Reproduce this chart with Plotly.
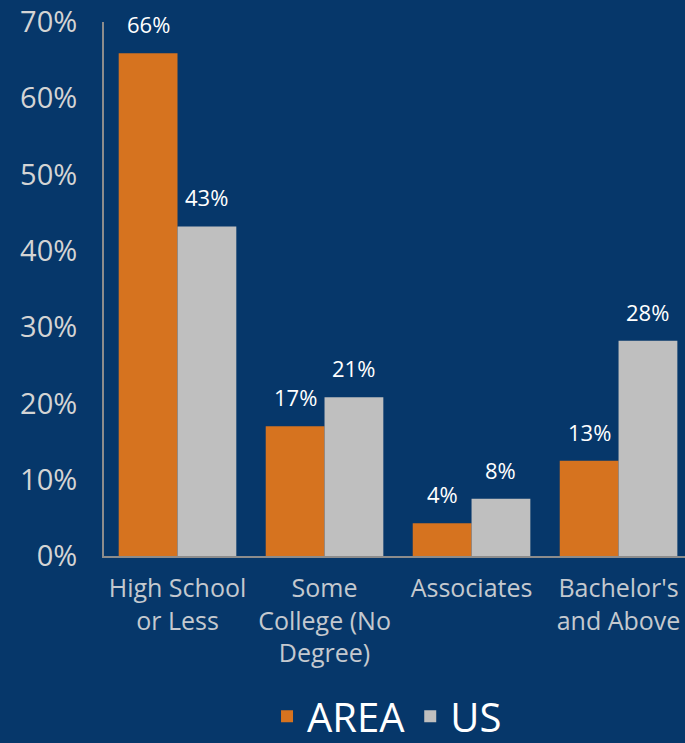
import plotly.graph_objects as go

categories = ["High School<br>or Less", "Some<br>College (No<br>Degree)", "Associates", "Bachelor's<br>and Above"]
area_values = [65.9, 17.0, 4.3, 12.5]
us_values = [43.2, 20.8, 7.5, 28.2]
area_labels = ["66%", "17%", "4%", "13%"]
us_labels = ["43%", "21%", "8%", "28%"]
y_ticks = [0, 10, 20, 30, 40, 50, 60, 70]
y_tick_labels = ["0%", "10%", "20%", "30%", "40%", "50%", "60%", "70%"]

BG = "#06376A"
ORANGE = "#D6731F"
GRAY = "#BFBFBF"
FONT = "Open Sans"

fig = go.Figure()
fig.add_trace(go.Bar(name="AREA", x=categories, y=area_values,
                     marker=dict(color=ORANGE, line=dict(width=0))))
fig.add_trace(go.Bar(name="US", x=categories, y=us_values,
                     marker=dict(color=GRAY, line=dict(width=0))))

annotations = []
for cat, v, lab in zip(categories, area_values, area_labels):
    annotations.append(dict(x=cat, y=v, text=lab, xshift=-29, yshift=12,
                            yanchor="bottom", showarrow=False,
                            font=dict(family=FONT, size=22, color="white")))
for cat, v, lab in zip(categories, us_values, us_labels):
    annotations.append(dict(x=cat, y=v, text=lab, xshift=29, yshift=12,
                            yanchor="bottom", showarrow=False,
                            font=dict(family=FONT, size=22, color="white")))

fig.update_layout(
    width=685, height=743,
    paper_bgcolor=BG, plot_bgcolor=BG,
    margin=dict(l=104, r=0, t=22, b=187),
    barmode="group", bargap=0.2, bargroupgap=0,
    font=dict(family=FONT, color="#D0D4D9"),
    annotations=annotations,
    showlegend=True,
    legend=dict(orientation="h", xref="container", yref="container",
                x=0.565, y=0.036, xanchor="center", yanchor="middle",
                font=dict(size=40, color="white"), bgcolor="rgba(0,0,0,0)",
                itemwidth=30, traceorder="normal"),
    xaxis=dict(range=[-0.5, 3.452], showline=True, linecolor="#8C8C8C", linewidth=2,
               tickfont=dict(size=25, color="#C4C9CF"), showgrid=False,
               ticks="", ticklabelstandoff=9, automargin=False),
    yaxis=dict(range=[0, 70], tickvals=y_ticks, ticktext=y_tick_labels,
               showline=True, linecolor="#8C8C8C", linewidth=2,
               showgrid=False, zeroline=False, ticks="", automargin=False,
               tickfont=dict(size=29, color="#D4D4D4"), ticklabelstandoff=19),
)

fig.write_html("out.html")
